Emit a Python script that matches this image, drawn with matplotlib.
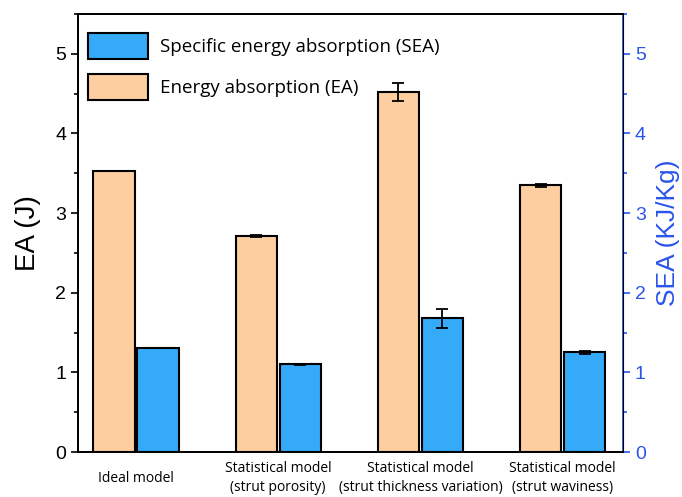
import numpy as np
import matplotlib
matplotlib.use("Agg")
import matplotlib.pyplot as plt
from matplotlib.ticker import MultipleLocator

groups = ["Ideal model", "Statistical model\n(strut porosity)",
          "Statistical model\n(strut thickness variation)",
          "Statistical model\n(strut waviness)"]
ea = [3.53, 2.71, 4.52, 3.35]
ea_err = [0.0, 0.01, 0.11, 0.02]
sea = [1.31, 1.10, 1.68, 1.25]
sea_err = [0.0, 0.005, 0.12, 0.02]

orange = "#FDCEA0"
blue = "#35AAF8"
axis_blue = "#2B55EA"

plt.rcParams["font.family"] = ["Liberation Sans", "DejaVu Sans"]

fig = plt.figure(figsize=(6.82, 4.97), dpi=100)
ax = fig.add_axes([0.1144, 0.0905, 0.7991, 0.8813])
ax2 = ax.twinx()

x = np.arange(len(groups))
w = 0.29
off = 0.155

b_ea = ax.bar(x - off, ea, w, yerr=ea_err, color=orange, edgecolor="black",
              linewidth=1.5, capsize=4.5, error_kw=dict(elinewidth=1.3, capthick=1.3),
              label="Energy absorption (EA)")
b_sea = ax2.bar(x + off, sea, w, yerr=sea_err, color=blue, edgecolor="black",
                linewidth=1.5, capsize=4.5, error_kw=dict(elinewidth=1.3, capthick=1.3),
                label="Specific energy absorption (SEA)")

ax.set_xlim(-0.408, 3.425)
ax.set_ylim(0, 5.5)
ax2.set_ylim(0, 5.5)

for a in (ax, ax2):
    a.yaxis.set_major_locator(MultipleLocator(1))
    a.yaxis.set_minor_locator(MultipleLocator(0.5))

ax.tick_params(axis="y", which="major", length=5, width=1.2, labelsize=14, direction="out")
ax.tick_params(axis="y", which="minor", length=3, width=1.2, direction="out")
ax.tick_params(axis="x", length=0, labelsize=10, pad=19)
ax2.tick_params(axis="y", which="major", length=5, width=1.2, labelsize=14,
                colors=axis_blue, direction="out")
ax2.tick_params(axis="y", which="minor", length=3, width=1.2, colors=axis_blue,
                direction="out")

ax.set_xticks(x)
ax.set_xticklabels(groups, fontfamily="Open Sans", linespacing=1.35)
for lbl in ax.get_xticklabels():
    lbl.set_verticalalignment("center")

for s in ("left", "bottom", "top"):
    ax.spines[s].set_linewidth(1.3)
ax2.spines["right"].set_color(axis_blue)
ax2.spines["right"].set_linewidth(1.3)
for s in ("left", "bottom", "top"):
    ax2.spines[s].set_linewidth(1.3)

ax.set_ylabel("EA (J)", fontsize=20, labelpad=10)
ax2.set_ylabel("SEA (KJ/Kg)", fontsize=19, color=axis_blue, labelpad=7)

leg = ax.legend([b_sea, b_ea], ["Specific energy absorption (SEA)", "Energy absorption (EA)"],
                loc="upper left", bbox_to_anchor=(0.004, 0.974), frameon=False,
                handlelength=3.2, handleheight=1.78,
                prop=dict(family="Open Sans", size=13.5), borderaxespad=0.1,
                borderpad=0.3, labelspacing=0.8, handletextpad=0.65)
ax2.set_zorder(ax.get_zorder() - 1)
ax.patch.set_visible(False)
ax2.patch.set_visible(True)

fig.savefig("out.png", dpi=100)
